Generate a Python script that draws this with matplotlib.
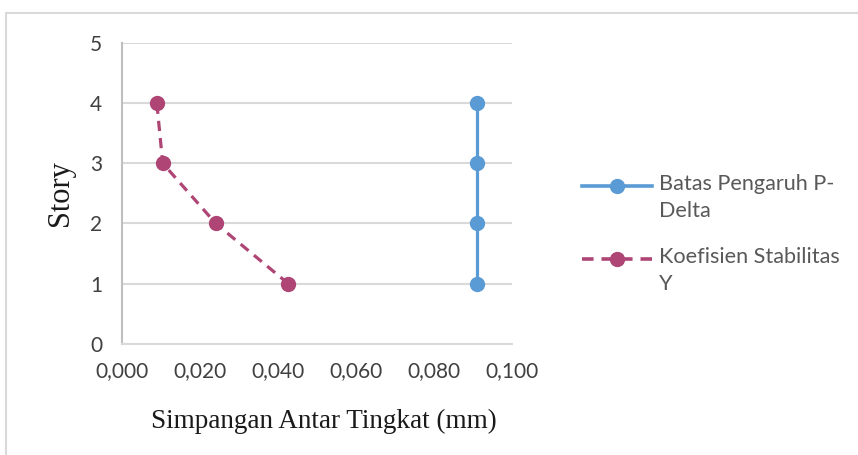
import matplotlib
matplotlib.use('Agg')
import matplotlib.pyplot as plt
from matplotlib.lines import Line2D
from matplotlib.patches import Rectangle
from matplotlib.ticker import FuncFormatter

# data
story = [1, 2, 3, 4]
batas_pdelta = [0.091, 0.091, 0.091, 0.091]
koef_stabilitas = [0.0427, 0.0241, 0.0105, 0.0090]
label_batas = "Batas Pengaruh P-\nDelta"
label_koef = "Koefisien Stabilitas\nY"
xlabel = "Simpangan Antar Tingkat (mm)"
ylabel = "Story"

blue = '#5B9BD5'
red = '#AE4574'
tick_color = '#404040'
dash = (0, (3.2, 2.2))

fig = plt.figure(figsize=(8.58, 4.55), dpi=100)
# chart area border
fig.patches.append(Rectangle((6 / 858, -0.1), 1.2, (455 - 13) / 455 + 0.1,
                             transform=fig.transFigure, fill=False,
                             edgecolor='#D9D9D9', linewidth=1.5))

ax = fig.add_axes([121.7 / 858, (455 - 344) / 455, (512 - 121.7) / 858, (344 - 42.7) / 455])

ax.plot(batas_pdelta, story, color=blue, linewidth=2.3, marker='o',
        markersize=10, zorder=3)
ax.plot(koef_stabilitas, story, color=red, linewidth=2.3, linestyle=dash,
        marker='o', markersize=10, zorder=3)

ax.set_xlim(0, 0.1)
ax.set_ylim(0, 5)
ax.set_xticks([0, 0.02, 0.04, 0.06, 0.08, 0.1])
ax.set_yticks([0, 1, 2, 3, 4, 5])
ax.xaxis.set_major_formatter(FuncFormatter(lambda v, p: f"{v:.3f}".replace('.', ',')))
ax.grid(axis='y', color='#D9D9D9', linewidth=1.5)
ax.set_axisbelow(True)
for s in ['top', 'right']:
    ax.spines[s].set_visible(False)
ax.spines['left'].set_color('#BFBFBF')
ax.spines['bottom'].set_color('#D9D9D9')
ax.spines['left'].set_linewidth(1.5)
ax.spines['bottom'].set_linewidth(1.5)
ax.tick_params(length=0, labelsize=15, colors=tick_color)
ax.tick_params(axis='y', pad=14)
ax.tick_params(axis='x', pad=12)
for t in ax.get_xticklabels() + ax.get_yticklabels():
    t.set_fontfamily('Lato')

ax.set_xlabel(xlabel, family='Liberation Serif', fontsize=19.5, color='#1a1a1a', labelpad=20)
ax.xaxis.set_label_coords(0.517, -0.215)
ax.set_ylabel(ylabel, family='Liberation Serif', fontsize=22, color='#1a1a1a', labelpad=11)

# legend drawn by hand so the marker sits on the first text line
for (lab, col, ls, y) in [(label_batas, blue, '-', 186), (label_koef, red, dash, 259)]:
    yf = (455 - y) / 455
    fig.add_artist(Line2D([582 / 858, 652 / 858], [yf, yf], color=col, linewidth=2.6,
                          linestyle=ls, transform=fig.transFigure))
    fig.add_artist(Line2D([617 / 858], [yf], color=col, marker='o', markersize=10,
                          transform=fig.transFigure))
    fig.text(659 / 858, yf + 12 / 455, lab, family='Lato', fontsize=15.6, color='#595959',
             va='top', ha='left', linespacing=1.45, transform=fig.transFigure)

fig.savefig('out.png', dpi=100)
